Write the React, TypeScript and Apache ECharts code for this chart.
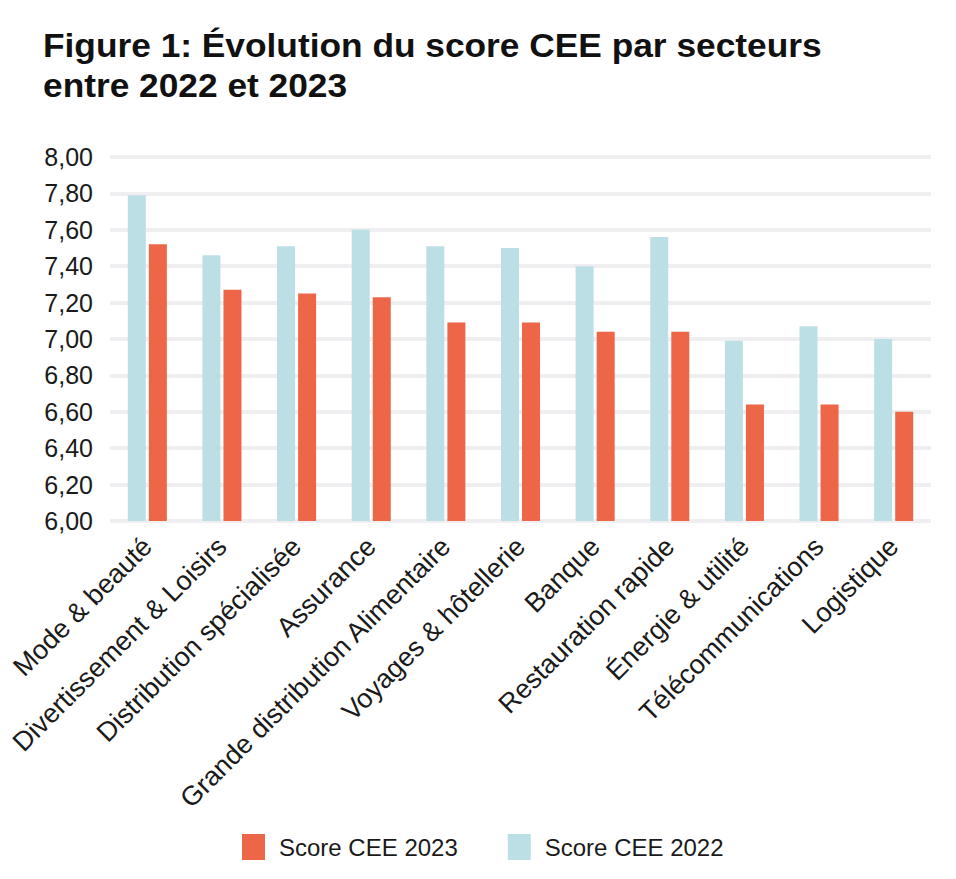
import React, { useEffect, useRef } from "react";
import * as echarts from "echarts";

const categories = [
  "Mode & beauté",
  "Divertissement & Loisirs",
  "Distribution spécialisée",
  "Assurance",
  "Grande distribution Alimentaire",
  "Voyages & hôtellerie",
  "Banque",
  "Restauration rapide",
  "Énergie & utilité",
  "Télécommunications",
  "Logistique",
];

const score2022 = [7.79, 7.46, 7.51, 7.6, 7.51, 7.5, 7.4, 7.56, 6.99, 7.07, 7.0];
const score2023 = [7.52, 7.27, 7.25, 7.23, 7.09, 7.09, 7.04, 7.04, 6.64, 6.64, 6.6];

const seriesNames = ["Score CEE 2022", "Score CEE 2023"];
const legendOrder = ["Score CEE 2023", "Score CEE 2022"];
const titleLines = ["Figure 1: Évolution du score CEE par secteurs", "entre 2022 et 2023"];

const yMin = 6;
const yMax = 8;
const yInterval = 0.2;

const FONT = "'Liberation Sans', Arial, sans-serif";
const TEXT = "#1a1a1a";
const BLUE = "#bcdee5";
const ORANGE = "#ec6647";

export default function App() {
  const ref = useRef<HTMLDivElement>(null);

  useEffect(() => {
    if (!ref.current) return;
    const chart = echarts.init(ref.current, undefined, { renderer: "svg" });
    chart.setOption({
      animation: false,
      backgroundColor: "#ffffff",
      graphic: titleLines.map((line, i) => ({
        type: "text",
        x: 43,
        y: 45.5 + i * 39.5,
        scaleX: 1.07,
        style: {
          text: line,
          x: 0,
          y: 0,
          align: "left",
          verticalAlign: "middle",
          fontFamily: FONT,
          fontWeight: "bold",
          fontSize: 33,
          fill: "#111111",
        },
      })),
      legend: {
        data: legendOrder,
        left: 242,
        top: 834,
        padding: 0,
        itemWidth: 23,
        itemHeight: 26,
        itemGap: 50,
        icon: "rect",
        textStyle: {
          fontFamily: FONT,
          fontSize: 24,
          color: TEXT,
          padding: [0, 0, 0, 9],
        },
      },
      grid: {
        left: 110,
        right: 25,
        top: 157,
        bottom: 358,
        containLabel: false,
      },
      xAxis: {
        type: "category",
        data: categories,
        axisLine: { show: false },
        axisTick: { show: false },
        axisLabel: {
          interval: 0,
          rotate: 45,
          margin: 21,
          fontFamily: FONT,
          fontSize: 27,
          color: TEXT,
        },
      },
      yAxis: {
        type: "value",
        min: yMin,
        max: yMax,
        interval: yInterval,
        axisLine: { show: false },
        axisTick: { show: false },
        splitLine: { lineStyle: { color: "#efeff1", width: 4 } },
        axisLabel: {
          margin: 17,
          fontFamily: FONT,
          fontSize: 25,
          color: TEXT,
          formatter: (v: number) => v.toFixed(2).replace(".", ","),
        },
      },
      series: [
        {
          name: seriesNames[0],
          type: "bar",
          data: score2022,
          barWidth: 18,
          barGap: "17%",
          itemStyle: { color: BLUE },
        },
        {
          name: seriesNames[1],
          type: "bar",
          data: score2023,
          barWidth: 18,
          barGap: "17%",
          itemStyle: { color: ORANGE },
        },
      ],
    });
    return () => chart.dispose();
  }, []);

  return (
    <div
      ref={ref}
      style={{ position: "absolute", left: 0, top: 0, width: 956, height: 879 }}
    />
  );
}
